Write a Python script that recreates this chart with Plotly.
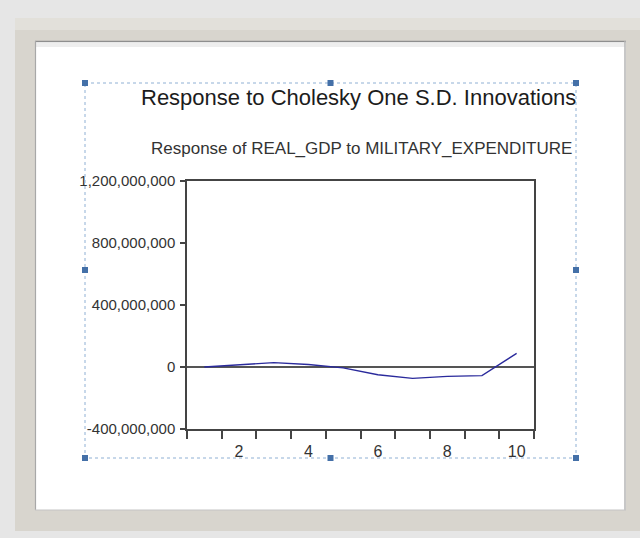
import plotly.graph_objects as go

# Impulse response of REAL_GDP to a one S.D. MILITARY_EXPENDITURE shock
periods = [1, 2, 3, 4, 5, 6, 7, 8, 9, 10]
response = [0, 16e6, 28e6, 16e6, -5e6, -50e6, -74e6, -60e6, -55e6, 88e6]

y_ticks = [-400e6, 0, 400e6, 800e6, 1200e6]
y_tick_text = [f"{v:,.0f}" for v in y_ticks]
x_labels = [2, 4, 6, 8, 10]

main_title = "Response to Cholesky One S.D. Innovations"
sub_title = "Response of REAL_GDP to MILITARY_EXPENDITURE"

FIG_W, FIG_H = 640, 538
L, R, T, B = 187, 534, 181, 429  # plot-area edges in pixels
W, H = R - L, B - T


def px(x):
    return (x - L) / W


def py(y):
    return (B - y) / H


fig = go.Figure()
fig.add_trace(go.Scatter(
    x=periods, y=response, mode="lines",
    line=dict(color="#2a2a9c", width=1.3),
    hoverinfo="skip", showlegend=False,
))

shapes = []
# window frame and inner white panel
shapes.append(dict(type="rect", xref="paper", yref="paper", layer="below",
                   x0=px(15), x1=px(641), y0=py(18), y1=py(531),
                   fillcolor="#d8d5ce", line=dict(width=0)))
shapes.append(dict(type="rect", xref="paper", yref="paper", layer="below",
                   x0=px(15), x1=px(641), y0=py(18), y1=py(30),
                   fillcolor="#e2e0da", line=dict(width=0)))
shapes.append(dict(type="rect", xref="paper", yref="paper", layer="below",
                   x0=px(35), x1=px(626), y0=py(41), y1=py(510),
                   fillcolor="#ffffff", line=dict(width=0)))
shapes.append(dict(type="line", xref="paper", yref="paper", layer="below",
                   x0=px(35), x1=px(626), y0=py(41.5), y1=py(41.5),
                   line=dict(color="#8e8e8e", width=1.5)))
shapes.append(dict(type="rect", xref="paper", yref="paper", layer="below",
                   x0=px(36), x1=px(625), y0=py(42.5), y1=py(47),
                   fillcolor="#eeeeee", line=dict(width=0)))
shapes.append(dict(type="line", xref="paper", yref="paper", layer="below",
                   x0=px(35.5), x1=px(35.5), y0=py(41), y1=py(510),
                   line=dict(color="#a8a8a8", width=1.2)))
shapes.append(dict(type="line", xref="paper", yref="paper", layer="below",
                   x0=px(625), x1=px(625), y0=py(41), y1=py(510),
                   line=dict(color="#b4b4b4", width=1.5)))
shapes.append(dict(type="line", xref="paper", yref="paper", layer="below",
                   x0=px(35), x1=px(626), y0=py(510), y1=py(510),
                   line=dict(color="#c4c4c4", width=1)))

# dotted selection box with handles
shapes.append(dict(type="rect", xref="paper", yref="paper", layer="above",
                   x0=px(85), x1=px(576), y0=py(83), y1=py(458),
                   line=dict(color="#8fb0d4", width=1, dash="dot"),
                   fillcolor="rgba(0,0,0,0)"))
for hx in (85, 330.5, 576):
    for hy in (83, 270, 458):
        if hx == 330.5 and hy == 270:
            continue
        shapes.append(dict(type="rect", xref="paper", yref="paper", layer="above",
                           x0=px(hx - 3), x1=px(hx + 3), y0=py(hy - 3), y1=py(hy + 3),
                           fillcolor="#4470a8", line=dict(width=0)))

annotations = [
    dict(text=main_title, xref="paper", yref="paper", x=px(578), y=py(97),
         xanchor="right", yanchor="middle", showarrow=False,
         font=dict(family="Arial, Liberation Sans", size=22, color="#1c1c1c")),
    dict(text=sub_title, xref="paper", yref="paper", x=px(574), y=py(148),
         xanchor="right", yanchor="middle", showarrow=False,
         font=dict(family="Arial, Liberation Sans", size=17, color="#333333")),
]

fig.update_layout(
    width=FIG_W, height=FIG_H,
    margin=dict(l=L, r=FIG_W - R, t=T, b=FIG_H - B, pad=0),
    paper_bgcolor="#e6e6e6", plot_bgcolor="rgba(0,0,0,0)",
    shapes=shapes, annotations=annotations,
    font=dict(family="Arial, Liberation Sans", color="#333333"),
    xaxis=dict(
        range=[0.5, 10.5], tickmode="array", tickvals=x_labels,
        ticks="outside", ticklen=7, tickcolor="rgba(0,0,0,0)",
        showgrid=False, zeroline=False,
        showline=True, linecolor="#444444", linewidth=1.5, mirror=True,
        tickfont=dict(size=16, color="#333333"),
        minor=dict(tickmode="linear", tick0=0.5, dtick=1, ticks="outside",
                   ticklen=8, tickwidth=1.5, tickcolor="#444444", showgrid=False),
    ),
    yaxis=dict(
        range=[-400e6, 1200e6], tickmode="array", tickvals=y_ticks,
        ticktext=y_tick_text, ticks="outside", ticklen=5, tickwidth=1.5,
        tickcolor="#444444", showgrid=False, ticklabelstandoff=2,
        zeroline=True, zerolinecolor="#555555", zerolinewidth=1.5,
        showline=True, linecolor="#444444", linewidth=1.5, mirror=True,
        tickfont=dict(size=15, color="#333333"),
    ),
)

fig.write_html("out.html")
